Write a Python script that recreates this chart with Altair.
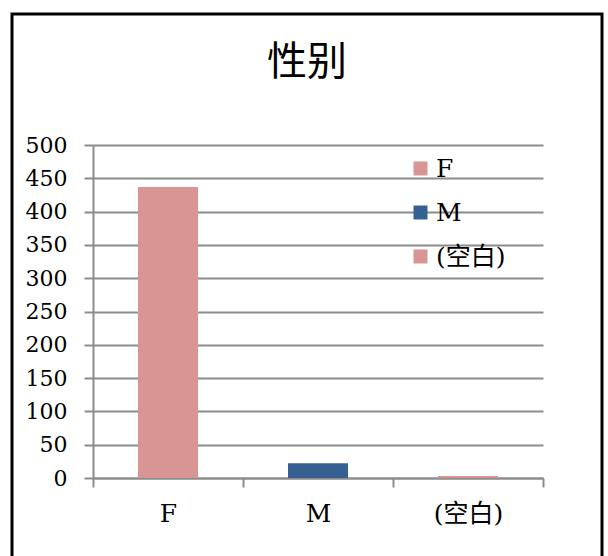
import altair as alt
import pandas as pd

# Gender breakdown
categories = ["F", "M", "(空白)"]
counts = [437, 22, 3]
colors = ["#D99594", "#366092", "#D99594"]
y_ticks = [0, 50, 100, 150, 200, 250, 300, 350, 400, 450, 500]

df = pd.DataFrame({"cat": categories, "count": counts})

SERIF = "DejaVu Serif, Noto Sans CJK SC"
GRID = "#8C8C8C"

bars = alt.Chart(df).mark_bar(width=alt.RelativeBandSize(0.4)).encode(
    x=alt.X(
        "cat:N",
        sort=categories,
        scale=alt.Scale(paddingInner=0, paddingOuter=0),
        axis=alt.Axis(
            title=None, labelAngle=0, tickBand="extent", grid=False,
            domainColor=GRID, domainWidth=2, tickColor=GRID, tickWidth=2,
            tickSize=9, labelFont=SERIF, labelFontSize=25, labelColor="#000",
            labelPadding=14,
        ),
    ),
    y=alt.Y(
        "count:Q",
        scale=alt.Scale(domain=[0, 500], nice=False),
        axis=alt.Axis(
            title=None, values=y_ticks, grid=True, gridColor=GRID, gridWidth=2,
            domainColor=GRID, domainWidth=2, tickColor=GRID, tickWidth=2,
            tickSize=9, labelFont=SERIF, labelFontSize=22, labelColor="#000",
            labelPadding=17,
        ),
    ),
    color=alt.Color(
        "cat:N",
        scale=alt.Scale(domain=categories, range=colors),
        legend=alt.Legend(
            title=None, orient="none", legendX=315, legendY=11,
            symbolType="square", symbolSize=196, symbolStrokeWidth=0,
            labelFont=SERIF, labelFontSize=25, labelColor="#000",
            labelOffset=3, rowPadding=18, padding=0,
        ),
    ),
)

title = alt.Chart(pd.DataFrame({"t": ["性别"]})).mark_text(
    font="Noto Sans CJK SC", fontSize=40, color="#000", baseline="middle", align="center"
).encode(text="t:N", x=alt.value(214), y=alt.value(-82))

frame = alt.Chart(pd.DataFrame({"a": [0]})).mark_rect(
    fill=None, stroke="#000", strokeWidth=3
).encode(x=alt.value(-81), x2=alt.value(509), y=alt.value(-131), y2=alt.value(600))

chart = alt.layer(frame, bars, title).properties(
    width=450,
    height=333,
    autosize=alt.AutoSizeParams(type="none"),
    padding={"left": 93, "top": 145, "right": 65, "bottom": 78},
    background="#FFFFFF",
).configure_view(stroke=None)

chart.save("out.html", embed_options={"renderer": "svg", "actions": False})
